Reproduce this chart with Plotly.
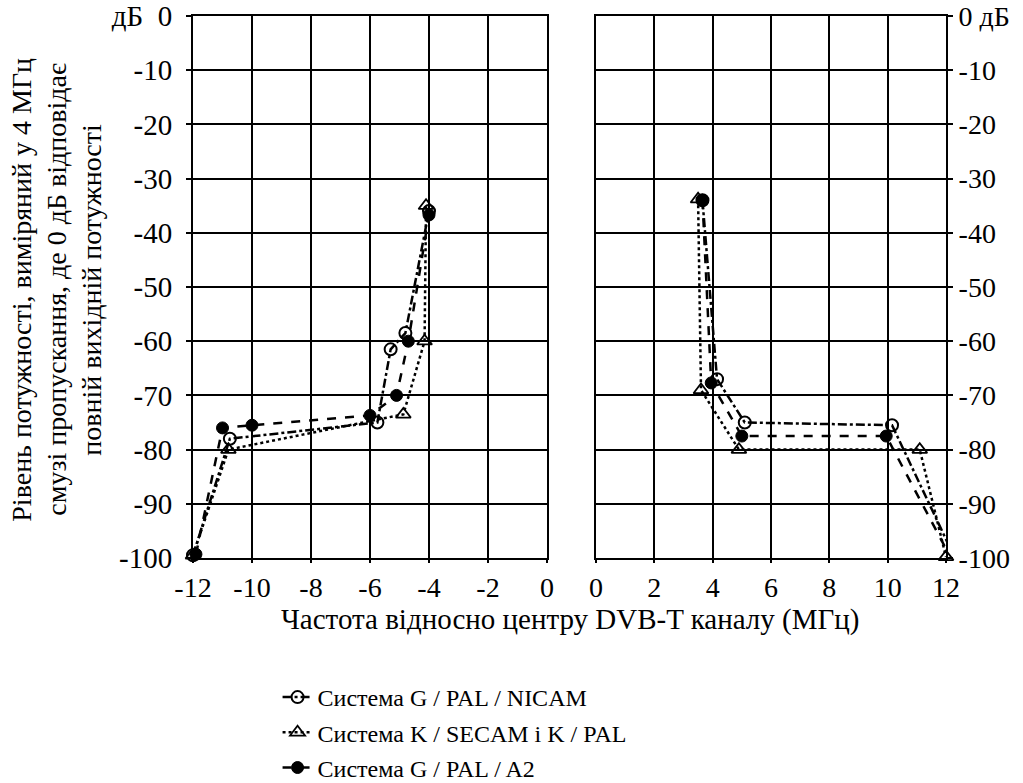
import plotly.graph_objects as go

# ---- data ----
nicam_left_x = [-12.0, -10.75, -5.75, -5.3, -4.8, -4.0]
nicam_left_y = [-99.5, -78.0, -75.0, -61.5, -58.5, -36.0]
nicam_right_x = [3.65, 4.15, 5.1, 10.15, 12.25]
nicam_right_y = [-34.0, -67.0, -75.0, -75.5, -99.4]

secam_left_x = [-12.0, -10.8, -4.87, -4.15, -4.1]
secam_left_y = [-99.5, -80.0, -73.5, -60.0, -35.0]
secam_right_x = [3.5, 3.6, 4.9, 11.1, 12.0]
secam_right_y = [-33.8, -69.0, -80.0, -80.0, -99.8]

a2_left_x = [-11.9, -11.0, -10.0, -6.0, -5.1, -4.7, -4.0]
a2_left_y = [-99.3, -76.0, -75.5, -73.7, -70.0, -60.0, -36.7]
a2_right_x = [3.65, 3.95, 5.0, 9.95, 12.05]
a2_right_y = [-34.0, -67.7, -77.5, -77.5, -98.8]

names = ["Система G / PAL / NICAM", "Система K / SECAM і K / PAL", "Система G / PAL / A2"]

y_title_lines = ["Рівень потужності, виміряний у 4 МГц",
                 "смузі пропускання, де 0 дБ відповідає",
                 "повній вихідній потужності"]
x_title = "Частота відносно центру DVB-T каналу (МГц)"

y_ticks = [0, -10, -20, -30, -40, -50, -60, -70, -80, -90, -100]
y_left_text = ["дБ  0"] + [str(v) for v in y_ticks[1:]]
y_right_text = ["0 дБ"] + [str(v) for v in y_ticks[1:]]
x_left_ticks = [-12, -10, -8, -6, -4, -2, 0]
x_right_ticks = [0, 2, 4, 6, 8, 10, 12]
x_left_text = [str(v) for v in x_left_ticks]
x_right_text = [str(v) for v in x_right_ticks]

FONT = "Liberation Serif, Times New Roman, serif"

series = [
    (names[0], nicam_left_x, nicam_left_y, nicam_right_x, nicam_right_y,
     "dashdot", dict(symbol="circle-open", color="black", size=12, line=dict(width=2, color="black"))),
    (names[1], secam_left_x, secam_left_y, secam_right_x, secam_right_y,
     "dot", dict(symbol="triangle-up-open", color="black", size=13, line=dict(width=1.8, color="black"))),
    (names[2], a2_left_x, a2_left_y, a2_right_x, a2_right_y,
     "dash", dict(symbol="circle", color="black", size=12, line=dict(width=1, color="black"))),
]

fig = go.Figure()
for i, (nm, lx, ly, rx, ry, dash, mk) in enumerate(series):
    fig.add_trace(go.Scatter(x=lx, y=ly, mode="lines+markers", name=nm, legendgroup=f"g{i}",
                             line=dict(color="black", width=2.5, dash=dash), marker=mk,
                             xaxis="x", yaxis="y", cliponaxis=False))
    fig.add_trace(go.Scatter(x=rx, y=ry, mode="lines+markers", name=nm, legendgroup=f"g{i}",
                             showlegend=False,
                             line=dict(color="black", width=2.5, dash=dash), marker=mk,
                             xaxis="x2", yaxis="y2", cliponaxis=False))

axis_common = dict(showgrid=True, gridcolor="black", gridwidth=2, zeroline=False,
                   showline=True, linecolor="black", linewidth=2, mirror=True,
                   ticks="outside", tickwidth=2, tickcolor="black",
                   automargin=False)

title_font = dict(family=FONT, size=28, color="black")
y_title_x = [-0.2271, -0.1806, -0.1341]

annotations = [
    dict(text=line, xref="paper", yref="paper", x=xp, y=0.495, xanchor="center", yanchor="middle",
         textangle=-90, showarrow=False, font=title_font)
    for line, xp in zip(y_title_lines, y_title_x)
]
annotations.append(dict(text=x_title, xref="paper", yref="paper", x=0.5007, y=-0.114,
                        xanchor="center", yanchor="middle", showarrow=False,
                        font=dict(family=FONT, size=29, color="black")))

fig.update_layout(
    width=1023, height=783,
    margin=dict(l=193, r=77, t=16, b=225, autoexpand=False),
    paper_bgcolor="white", plot_bgcolor="white",
    font=dict(family=FONT, size=24, color="black"),
    xaxis=dict(domain=[0, 0.4701], range=[-12, 0], tickvals=x_left_ticks, ticktext=x_left_text,
               anchor="y", ticklen=3, tickfont=dict(family=FONT, size=28, color="black"), **axis_common),
    xaxis2=dict(domain=[0.5352, 1], range=[0, 12], tickvals=x_right_ticks, ticktext=x_right_text,
                anchor="y2", ticklen=3, tickfont=dict(family=FONT, size=28, color="black"), **axis_common),
    yaxis=dict(range=[-100, 0], tickvals=y_ticks, ticktext=y_left_text, anchor="x", ticklen=5,
               ticklabelstandoff=8, tickfont=dict(family=FONT, size=29, color="black"), **axis_common),
    yaxis2=dict(range=[-100, 0], tickvals=y_ticks, ticktext=y_right_text, anchor="x2", side="right",
                ticklen=5, tickfont=dict(family=FONT, size=28, color="black"), **axis_common),
    showlegend=True,
    legend=dict(x=0.1123, y=-0.2159, xanchor="left", yanchor="top", orientation="v",
                font=dict(family=FONT, size=24, color="black"), tracegroupgap=1,
                bgcolor="rgba(0,0,0,0)"),
    annotations=annotations,
)

fig.write_html("out.html", config={"displayModeBar": False},
               post_script="document.body.style.margin='0px';")
